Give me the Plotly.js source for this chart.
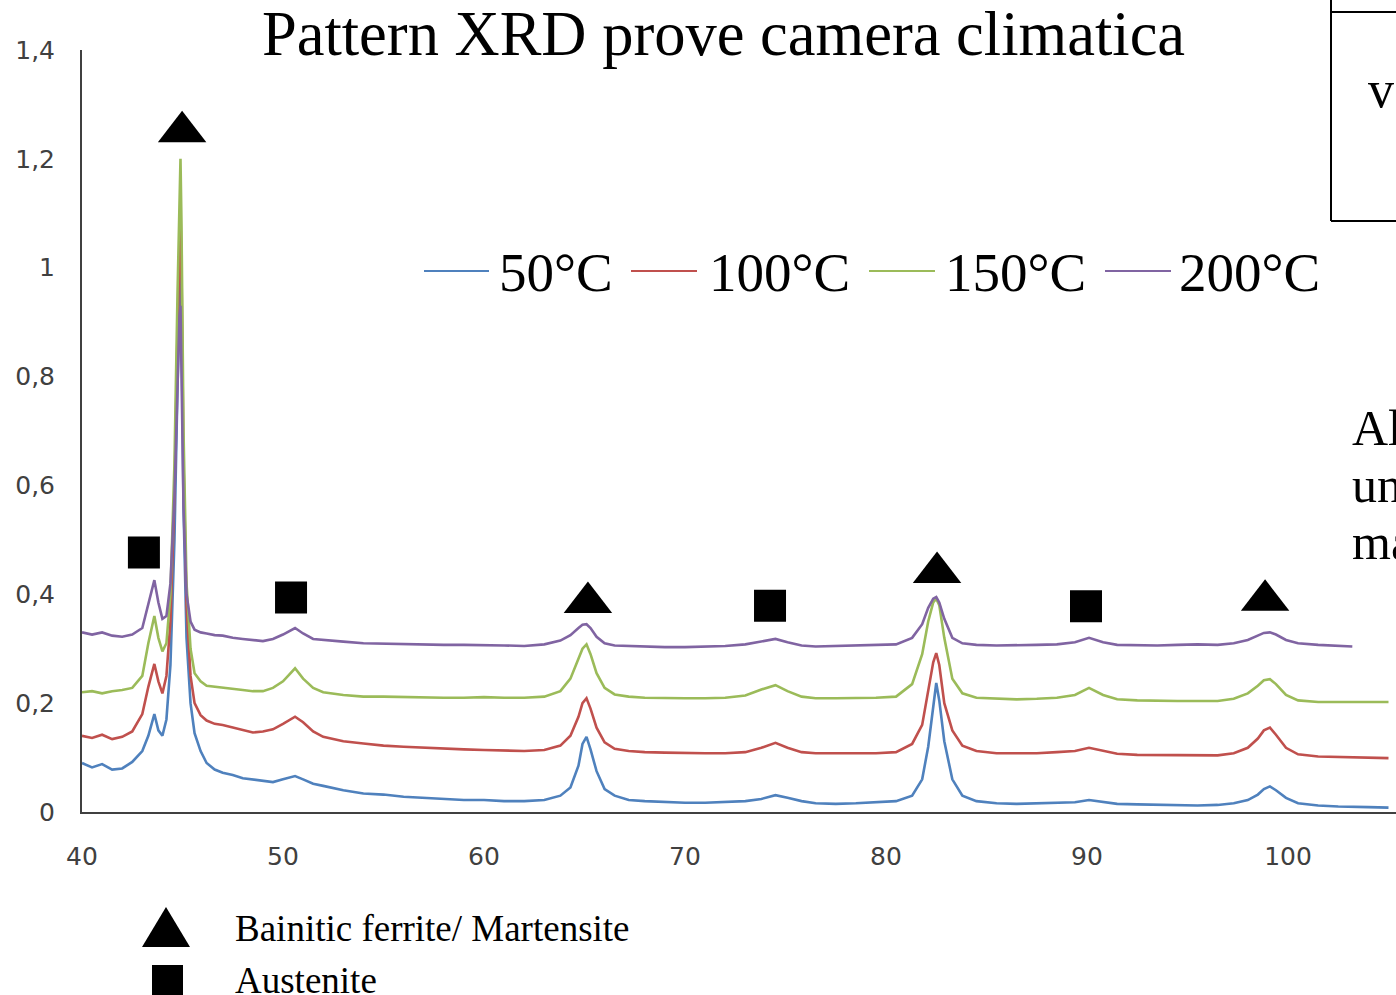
<!DOCTYPE html>
<html>
<head>
<meta charset="utf-8">
<script src="https://cdn.plot.ly/plotly-3.0.1.min.js"></script>
<style>html,body{margin:0;padding:0;background:#fff;}#chart{width:1396px;height:995px;}</style>
</head>
<body>
<div id="chart"></div>
<script>
// 2-theta grid (degrees)
const twoTheta = [40.0,40.5,41.0,41.5,42.0,42.5,43.0,43.3,43.6,43.8,44.0,44.2,44.4,44.6,44.75,44.85,44.9,44.95,45.05,45.2,45.4,45.6,45.9,46.2,46.6,47.0,47.5,48.0,48.5,49.0,49.5,50.0,50.6,51.0,51.5,52.0,53.0,54.0,55.0,56.0,57.0,58.0,59.0,60.0,61.0,62.0,63.0,63.8,64.3,64.7,64.9,65.1,65.3,65.6,66.0,66.5,67.2,68.0,69.0,70.0,71.0,72.0,73.0,73.8,74.5,75.1,75.8,76.5,77.5,78.5,79.5,80.5,81.3,81.8,82.1,82.35,82.5,82.65,82.9,83.3,83.8,84.5,85.5,86.5,87.5,88.5,89.4,90.1,90.8,91.5,92.5,93.5,94.5,95.5,96.5,97.3,98.0,98.5,98.8,99.1,99.4,99.9,100.5,101.5,102.5,103.2,104.0,105.0];

const int50 = [0.090,0.082,0.088,0.078,0.080,0.092,0.112,0.140,0.180,0.150,0.140,0.170,0.270,0.500,0.780,0.960,1.000,0.900,0.560,0.320,0.200,0.145,0.112,0.090,0.078,0.072,0.068,0.062,0.060,0.058,0.055,0.060,0.066,0.060,0.052,0.048,0.040,0.034,0.032,0.028,0.026,0.024,0.022,0.022,0.020,0.020,0.022,0.030,0.045,0.085,0.125,0.138,0.115,0.075,0.042,0.030,0.022,0.020,0.018,0.017,0.017,0.018,0.020,0.024,0.031,0.026,0.020,0.016,0.015,0.016,0.018,0.020,0.030,0.060,0.120,0.200,0.237,0.205,0.130,0.060,0.030,0.020,0.016,0.015,0.016,0.016,0.018,0.022,0.018,0.015,0.014,0.013,0.012,0.012,0.013,0.016,0.022,0.032,0.042,0.047,0.040,0.026,0.016,0.012,0.010,0.010,0.009,0.008];

const int100 = [0.140,0.136,0.142,0.134,0.138,0.148,0.180,0.230,0.272,0.240,0.218,0.250,0.350,0.580,0.880,1.060,1.100,1.000,0.640,0.380,0.250,0.200,0.178,0.168,0.162,0.160,0.155,0.150,0.146,0.148,0.152,0.162,0.175,0.165,0.148,0.138,0.130,0.126,0.122,0.120,0.118,0.116,0.115,0.114,0.113,0.112,0.114,0.122,0.140,0.175,0.200,0.209,0.190,0.155,0.128,0.116,0.112,0.110,0.109,0.108,0.108,0.108,0.110,0.118,0.127,0.118,0.110,0.108,0.108,0.108,0.108,0.110,0.125,0.160,0.220,0.275,0.292,0.270,0.200,0.150,0.122,0.112,0.108,0.108,0.108,0.110,0.112,0.118,0.112,0.107,0.105,0.105,0.104,0.104,0.104,0.108,0.118,0.135,0.150,0.155,0.142,0.118,0.106,0.102,0.101,0.100,0.100,0.099];

const int150 = [0.220,0.222,0.218,0.222,0.224,0.228,0.250,0.310,0.360,0.320,0.295,0.310,0.400,0.640,0.950,1.150,1.200,1.080,0.700,0.420,0.300,0.255,0.240,0.232,0.230,0.228,0.226,0.224,0.222,0.222,0.228,0.240,0.264,0.245,0.228,0.220,0.215,0.212,0.212,0.211,0.210,0.210,0.210,0.211,0.210,0.210,0.212,0.222,0.245,0.280,0.300,0.308,0.290,0.255,0.228,0.216,0.212,0.210,0.209,0.209,0.209,0.210,0.214,0.225,0.233,0.222,0.212,0.209,0.209,0.209,0.210,0.212,0.235,0.290,0.350,0.385,0.392,0.380,0.320,0.245,0.218,0.210,0.208,0.207,0.208,0.210,0.215,0.228,0.215,0.207,0.205,0.204,0.204,0.204,0.204,0.208,0.218,0.232,0.242,0.244,0.235,0.215,0.205,0.202,0.202,0.202,0.202,0.202];

const int200 = [0.330,0.326,0.330,0.324,0.322,0.326,0.338,0.385,0.426,0.385,0.355,0.360,0.420,0.580,0.800,0.910,0.930,0.820,0.560,0.400,0.350,0.335,0.330,0.328,0.325,0.324,0.320,0.318,0.316,0.314,0.318,0.326,0.338,0.328,0.318,0.316,0.313,0.310,0.309,0.308,0.307,0.307,0.307,0.307,0.306,0.305,0.308,0.315,0.325,0.338,0.344,0.345,0.338,0.322,0.310,0.306,0.305,0.304,0.303,0.303,0.304,0.305,0.308,0.314,0.318,0.312,0.306,0.304,0.305,0.305,0.306,0.308,0.320,0.345,0.375,0.392,0.395,0.385,0.355,0.320,0.310,0.307,0.306,0.306,0.307,0.308,0.312,0.320,0.312,0.307,0.306,0.306,0.307,0.308,0.307,0.310,0.316,0.324,0.329,0.330,0.326,0.316,0.310,0.307,0.306,0.304,null,null];

const seriesNames = ['50°C','100°C','150°C','200°C'];
const seriesColors = ['#4F81BD','#C0504D','#9BBB59','#8064A2'];

// Phase marks
const ferriteX = [44.98, 65.17, 82.54, 98.86];
const ferriteY = [1.250, 0.385, 0.440, 0.389];
const austeniteX = [43.08, 50.40, 74.23, 89.95];
const austeniteY = [0.477, 0.394, 0.379, 0.378];

const xTicks = [40,50,60,70,80,90,100];
const yTicks = [0,0.2,0.4,0.6,0.8,1,1.2,1.4];

// layout geometry (pixels)
const W = 1396, H = 995, L = 82, R = 0, T = 50, B = 183;
const pw = W - L - R, ph = H - T - B;
const px = v => (v - L) / pw;
const py = v => (H - B - v) / ph;

const traces = [int50,int100,int150,int200].map((ys,i)=>({
  type:'scatter', mode:'lines', x: twoTheta, y: ys, name: seriesNames[i],
  line:{color: seriesColors[i], width: 2.6}, connectgaps:false, showlegend:false
}));
traces.push({type:'scatter', mode:'markers', x: ferriteX, y: ferriteY, showlegend:false,
  marker:{symbol:'triangle-up', size:42, color:'black', line:{width:0}}, cliponaxis:false, hoverinfo:'skip'});
traces.push({type:'scatter', mode:'markers', x: austeniteX, y: austeniteY, showlegend:false,
  marker:{symbol:'square', size:32, color:'black', line:{width:0}}, cliponaxis:false, hoverinfo:'skip'});

const serif = 'Liberation Serif, Times New Roman, serif';
const sans = 'DejaVu Sans, Open Sans, sans-serif';

// series key positions (pixels): line start, line end, text start
const keyLineX0 = [424, 631, 869, 1105];
const keyLineX1 = [489, 697, 935, 1171];
const keyTextX = [497, 707, 943, 1177];
const keyY = 271;

const shapes = [
  // key triangle
  {type:'path', xref:'paper', yref:'paper',
   path:`M${px(142)},${py(947)} L${px(190)},${py(947)} L${px(166)},${py(907)} Z`,
   fillcolor:'black', line:{width:0}},
  // key square
  {type:'rect', xref:'paper', yref:'paper', x0:px(152), x1:px(183), y0:py(965), y1:py(996),
   fillcolor:'black', line:{width:0}},
  // slide box fragment
  {type:'line', xref:'paper', yref:'paper', x0:px(1331), x1:px(1331), y0:py(-2), y1:py(221), line:{color:'black', width:2}},
  {type:'line', xref:'paper', yref:'paper', x0:px(1331), x1:px(1400), y0:py(12), y1:py(12), line:{color:'black', width:2}},
  {type:'line', xref:'paper', yref:'paper', x0:px(1331), x1:px(1400), y0:py(221), y1:py(221), line:{color:'black', width:2}}
];
seriesNames.forEach((n,i)=>{
  shapes.push({type:'line', xref:'paper', yref:'paper', x0:px(keyLineX0[i]), x1:px(keyLineX1[i]),
    y0:py(keyY), y1:py(keyY), line:{color:seriesColors[i], width:2}});
});

const annotations = [
  {xref:'paper', yref:'paper', x:px(233), y:py(928), xanchor:'left', yanchor:'middle', showarrow:false,
   text:'Bainitic ferrite/ Martensite', font:{family:serif, size:37, color:'black'}},
  {xref:'paper', yref:'paper', x:px(233), y:py(980), xanchor:'left', yanchor:'middle', showarrow:false,
   text:'Austenite', font:{family:serif, size:37, color:'black'}},
  {xref:'paper', yref:'paper', x:px(1366), y:py(89), xanchor:'left', yanchor:'middle', showarrow:false,
   text:'v', font:{family:serif, size:52, color:'black'}},
  {xref:'paper', yref:'paper', x:px(1350), y:py(428), xanchor:'left', yanchor:'middle', showarrow:false,
   text:'Al', font:{family:serif, size:50, color:'black'}},
  {xref:'paper', yref:'paper', x:px(1350), y:py(485), xanchor:'left', yanchor:'middle', showarrow:false,
   text:'un', font:{family:serif, size:50, color:'black'}},
  {xref:'paper', yref:'paper', x:px(1350), y:py(542), xanchor:'left', yanchor:'middle', showarrow:false,
   text:'ma', font:{family:serif, size:50, color:'black'}}
];
seriesNames.forEach((n,i)=>{
  annotations.push({xref:'paper', yref:'paper', x:px(keyTextX[i]), y:py(keyY+1), xanchor:'left', yanchor:'middle',
    showarrow:false, text:n, font:{family:serif, size:55, color:'black'}});
});

const layout = {
  width: W, height: H,
  margin:{l:L, r:R, t:T, b:B, pad:0},
  paper_bgcolor:'white', plot_bgcolor:'white',
  separators: ',.',
  showlegend: false,
  title:{text:'Pattern XRD prove camera climatica', font:{family:serif, size:62.5, color:'black'},
    x: 723.5/W, xanchor:'center', xref:'container', y: 1 - 33/H, yanchor:'middle', yref:'container'},
  xaxis:{range:[40, 40 + pw/20.1], tickvals:xTicks, ticktext:xTicks.map(String),
    showline:true, linecolor:'#404040', linewidth:2, showgrid:false, zeroline:false,
    ticks:'', tickfont:{family:sans, size:25, color:'#404040'}, ticklabelstandoff:21, fixedrange:true},
  yaxis:{range:[0,1.4], tickvals:yTicks, ticktext:yTicks.map(v=>String(v).replace('.',',')),
    showline:true, linecolor:'#404040', linewidth:2, showgrid:false, zeroline:false,
    ticks:'', tickfont:{family:sans, size:25, color:'#404040'}, ticklabelstandoff:20, fixedrange:true},
  shapes: shapes,
  annotations: annotations
};

Plotly.newPlot('chart', traces, layout, {staticPlot:true, displayModeBar:false});
</script>
</body>
</html>
